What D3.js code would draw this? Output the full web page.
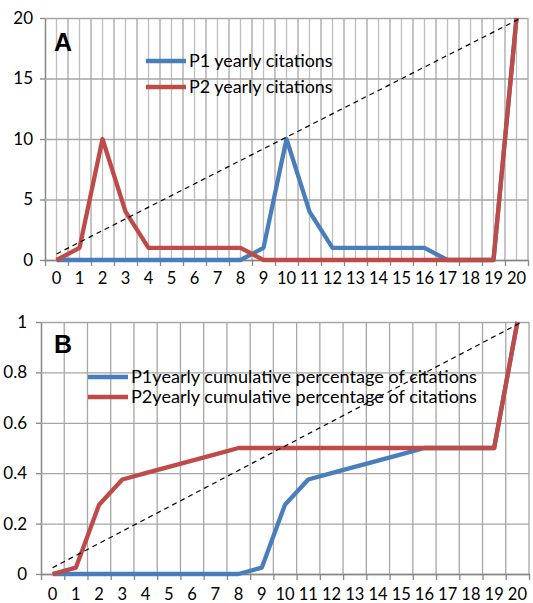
<!DOCTYPE html>
<html><head><meta charset="utf-8">
<script src="https://cdn.jsdelivr.net/npm/d3@7"></script>
<style>
body{margin:0;background:#fff;}
svg{display:block;font-family:Lato,"Open Sans",sans-serif;}
</style></head>
<body><svg id="c" width="533" height="603"></svg>
<script>
const categories = ["0","1","2","3","4","5","6","7","8","9","10","11","12","13","14","15","16","17","18","19","20"];
const p1Yearly = [0,0,0,0,0,0,0,0,0,1,10,4,1,1,1,1,1,0,0,0,20];
const p2Yearly = [0,1,10,4,1,1,1,1,1,0,0,0,0,0,0,0,0,0,0,0,20];
const p1Cum = [0,0,0,0,0,0,0,0,0,0.025,0.275,0.375,0.4,0.425,0.45,0.475,0.5,0.5,0.5,0.5,1];
const p2Cum = [0,0.025,0.275,0.375,0.4,0.425,0.45,0.475,0.5,0.5,0.5,0.5,0.5,0.5,0.5,0.5,0.5,0.5,0.5,0.5,1];
const refA = [[0,0.5],[20.2,20]];
const refB = [[0,0.025],[20.2,1]];
const yTicksA = [0,5,10,15,20];
const yTicksB = [0,0.2,0.4,0.6,0.8,1];
const legendA = ["P1 yearly citations","P2 yearly citations"];
const legendB = ["P1yearly cumulative percentage of citations","P2yearly cumulative percentage of citations"];

const BLUE="#4A7EBB", RED="#BE4B48";
const svg = d3.select("#c");

function panel(cfg){
  const g = svg.append("g");
  const n = categories.length;
  const x = d3.scaleLinear().domain([-0.5, n-0.5]).range([cfg.x0, cfg.x1]);
  const xb = d3.scaleBand().domain(categories).range([cfg.x0, cfg.x1]);
  const y = d3.scaleLinear().domain(cfg.yDomain).range([cfg.yb, cfg.yt]);
  const vstep = cfg.minor ? 0.5 : 1;
  const vs = d3.range(-0.5, n-0.5+0.001, vstep).filter(v=>v>-0.5);
  g.append("g").selectAll("line").data(vs).join("line")
    .attr("x1",d=>x(d)).attr("x2",d=>x(d)).attr("y1",y(cfg.yDomain[0])).attr("y2",y(cfg.yDomain[1]))
    .attr("stroke", d=> (Math.abs(d%1)===0.5 ? "#A6A6A6" : "#BEBEBE")).attr("stroke-width",1.3);
  const ya = g.append("g").attr("transform",`translate(${cfg.x0},0)`)
    .call(d3.axisLeft(y).tickValues(cfg.yTicks).tickFormat(cfg.fmt).tickSizeInner(-(cfg.x1-cfg.x0)).tickSizeOuter(0).tickPadding(cfg.ypad));
  ya.select(".domain").attr("stroke","#868686").attr("stroke-width",1.5);
  ya.selectAll(".tick line").attr("stroke","#A6A6A6").attr("stroke-width",1.3);
  ya.selectAll(".tick").append("line").attr("x1",-5).attr("x2",0).attr("stroke","#868686").attr("stroke-width",1.3);
  ya.selectAll("text").attr("font-size",17).attr("fill","#000").attr("font-family","Lato");
  const xt = g.append("g").attr("transform",`translate(0,${cfg.yb})`)
    .call(d3.axisBottom(x).tickValues(d3.range(-0.5,n,1)).tickFormat("").tickSizeInner(6).tickSizeOuter(0));
  xt.select(".domain").attr("stroke","#868686").attr("stroke-width",1.5);
  xt.selectAll(".tick line").attr("stroke","#868686").attr("stroke-width",1.3);
  const xl = g.append("g").attr("transform",`translate(0,${cfg.yb})`)
    .call(d3.axisBottom(xb).tickSize(0).tickPadding(cfg.xpad));
  xl.select(".domain").remove();
  xl.selectAll("text").attr("font-size",16.5).attr("fill","#000").attr("font-family","Lato");
  const line = d3.line().x((d,i)=>x(i)).y(d=>y(d));
  [[cfg.s1,BLUE],[cfg.s2,RED]].forEach(([s,c])=>{
    g.append("path").datum(s).attr("d",line).attr("fill","none").attr("stroke",c)
      .attr("stroke-width",4.3).attr("stroke-linejoin","round").attr("stroke-linecap","butt");
  });
  const lg = g.append("g");
  cfg.legend.forEach((t,i)=>{
    const ly = cfg.leg.y[i];
    lg.append("line").attr("x1",cfg.leg.x0).attr("x2",cfg.leg.x1).attr("y1",ly).attr("y2",ly)
      .attr("stroke",i?RED:BLUE).attr("stroke-width",4.3);
    lg.append("text").attr("x",cfg.leg.x1+3).attr("y",ly).attr("dy","0.35em")
      .attr("font-size",cfg.leg.fs).attr("fill","#000").text(t);
  });
  g.append("path").datum(cfg.ref).attr("d",d3.line().x(d=>x(d[0])).y(d=>y(d[1])))
    .attr("stroke","#000").attr("stroke-width",1.2).attr("stroke-dasharray","5,4").attr("fill","none");
  g.append("text").attr("x",cfg.lx).attr("y",cfg.ly).attr("font-family","Liberation Sans, Arial, sans-serif")
    .attr("font-weight","bold").attr("font-size",25).text(cfg.letter);
}

panel({x0:45,x1:528,yt:18,yb:260,yDomain:[0,20],yTicks:yTicksA,fmt:d3.format("d"),minor:true,
  s1:p1Yearly,s2:p2Yearly,ref:refA,legend:legendA,ypad:12,xpad:12,
  leg:{x0:146,x1:186,y:[61,87],fs:17.9},letter:"A",lx:54,ly:51});
panel({x0:41,x1:529,yt:322,yb:574,yDomain:[0,1],yTicks:yTicksB,fmt:d=>String(+d.toFixed(1)),minor:false,
  s1:p1Cum,s2:p2Cum,ref:refB,legend:legendB,ypad:14,xpad:14,
  leg:{x0:88,x1:128,y:[377,397],fs:18.1},letter:"B",lx:54,ly:353});
</script></body></html>
